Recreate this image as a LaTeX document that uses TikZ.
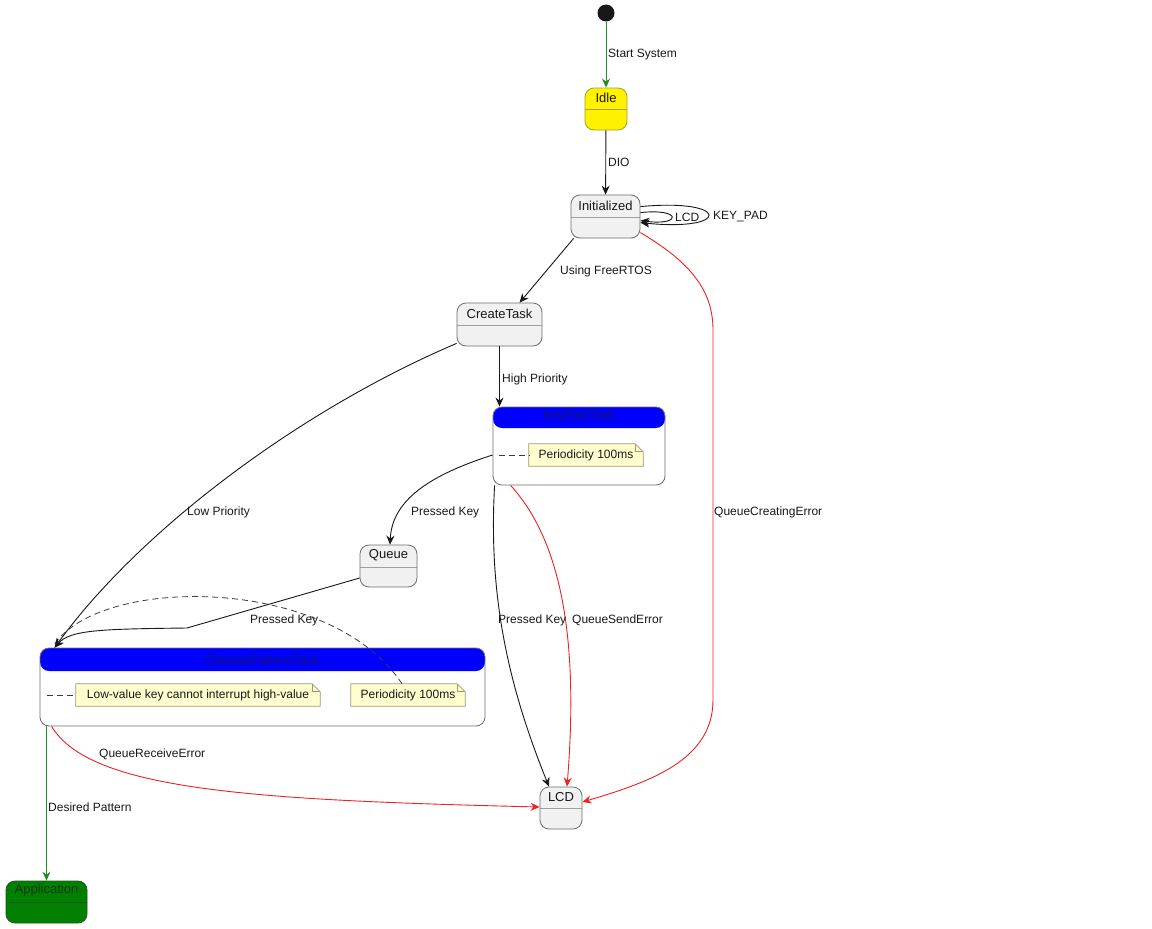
\documentclass[tikz,border=0pt]{standalone}
\usepackage{fontspec}
\setmainfont{Liberation Sans}
\usetikzlibrary{arrows.meta,calc}
\definecolor{sfill}{HTML}{F1F1F1}
\definecolor{sdraw}{HTML}{6E6E6E}
\definecolor{hline}{HTML}{A0A0A0}
\definecolor{nfill}{HTML}{FEFECE}
\definecolor{ndraw}{HTML}{9A9A78}
\definecolor{ink}{HTML}{181818}
\definecolor{grn}{HTML}{228B22}
\definecolor{rd}{HTML}{EE2222}
\definecolor{hblue}{HTML}{0000FF}
\definecolor{htext}{HTML}{14146E}
\definecolor{appg}{HTML}{008000}
\definecolor{appd}{HTML}{1A5A1A}
\definecolor{idled}{HTML}{A0A030}
\tikzset{
  x=1pt, y=-1pt,
  stbox/.style={draw=sdraw, line width=0.8pt, fill=sfill, rounded corners=9pt, inner sep=0pt},
  hdr/.style 2 args={path picture={\draw[#2, line width=0.8pt]
      ([yshift=-#1]path picture bounding box.north west) --
      ([yshift=-#1]path picture bounding box.north east);}},
  bluehdr/.style={path picture={\fill[hblue] (path picture bounding box.north west)
      rectangle ([yshift=-#1]path picture bounding box.north east);}},
  ttl/.style={font=\fontsize{13}{15}\selectfont, text=ink, inner sep=0pt},
  lbl/.style={font=\fontsize{12}{14}\selectfont, text=ink, inner sep=0pt, anchor=west},
  note/.style={fill=nfill, inner sep=0pt, font=\fontsize{12}{14}\selectfont, text=ink},
  notelink/.style={draw=ink!85, line width=0.8pt, dash pattern=on 6pt off 4pt},
  conn/.style={draw=ink, line width=0.9pt, -{Stealth[length=9pt,width=8pt,inset=3pt]}},
  gconn/.style={conn, draw=grn},
  rconn/.style={conn, draw=rd},
}
\newcommand{\dogear}[1]{%
  \fill[white] ([xshift=-8pt]#1.north east) -- (#1.north east) -- ([yshift=-8pt]#1.north east) -- cycle;
  \draw[ndraw, line width=0.8pt] (#1.north west) -- ([xshift=-8pt]#1.north east) -- ([yshift=-8pt]#1.north east) -- (#1.south east) -- (#1.south west) -- cycle;
  \draw[ndraw, line width=0.8pt] ([xshift=-8pt]#1.north east) |- ([yshift=-8pt]#1.north east);}
\begin{document}
\begin{tikzpicture}
\useasboundingbox[fill=white] (0,0) rectangle (1152,929);

% states
\node[circle, fill=ink, minimum size=17pt, inner sep=0pt] (start) at (606,13) {};
\node[stbox, fill=yellow, draw=idled, hdr={21pt}{idled}, minimum width=42pt, minimum height=42pt] (idle) at (606,109) {};
\node[ttl] (idle-t) at ([yshift=-10pt]idle.north) {Idle};
\node[stbox, hdr={22pt}{hline}, minimum width=69pt, minimum height=43pt] (init) at (605.5,216.5) {};
\node[ttl] (init-t) at ([yshift=-11pt]init.north) {Initialized};
\node[stbox, hdr={22pt}{hline}, minimum width=85pt, minimum height=43pt] (create) at (499.5,324.5) {};
\node[ttl] (create-t) at ([yshift=-11pt]create.north) {CreateTask};
\node[stbox, fill=white, bluehdr=21pt, minimum width=172pt, minimum height=78pt] (keypad) at (579,446) {};
\node[ttl, text=htext] (keypad-t) at ([yshift=-10pt]keypad.north) {KeyPadTask};
\node[stbox, hdr={22pt}{hline}, minimum width=57pt, minimum height=42pt] (queue) at (388.5,566) {};
\node[ttl] (queue-t) at ([yshift=-11pt]queue.north) {Queue};
\node[stbox, fill=white, bluehdr=23pt, minimum width=445pt, minimum height=78pt] (cpt) at (262.5,687) {};
\node[ttl, text=htext] (cpt-t) at ([yshift=-12pt]cpt.north) {ChoosePatternTask};
\node[stbox, hdr={21pt}{hline}, minimum width=42pt, minimum height=42pt] (lcd) at (561,808) {};
\node[ttl] (lcd-t) at ([yshift=-10pt]lcd.north) {LCD};
\node[stbox, fill=appg, draw=appd, hdr={21pt}{appd}, minimum width=81pt, minimum height=42pt] (app) at (46.5,902) {};
\node[ttl, text=appd!60!black] (app-t) at ([yshift=-10pt]app.north) {Application};

% notes
\node[note, minimum width=114pt, minimum height=22pt] (n1) at (586,455) {Periodicity 100ms};
\dogear{n1}
\node[note, minimum width=244pt, minimum height=22pt] (n2) at (198,695) {Low-value key cannot interrupt high-value};
\dogear{n2}
\node[note, minimum width=114pt, minimum height=22pt] (n3) at (408,695) {Periodicity 100ms};
\dogear{n3}
\coordinate (cptnote) at (54,645);
\draw[notelink] ($(n1.west -| keypad.west)+(6,0)$) -- (n1.west);
\draw[notelink] ($(n2.west -| cpt.west)+(7,0)$) -- (n2.west);
\draw[notelink] ([xshift=-6pt]n3.north) .. controls (330,575) and (100,575) .. (cptnote);

% connectors
\draw[gconn] (start) -- (idle);
\draw[conn] (idle) -- (init);
\draw[conn] ([yshift=-12pt]init.north east) .. controls (731,198) and (731,232) .. ([yshift=-28pt]init.north east);
\draw[conn] ([yshift=-18pt]init.north east) .. controls (682,208) and (682,226) .. ([yshift=-26pt]init.north east);
\draw[conn] ([xshift=3pt]init.south west) -- ([xshift=63pt]create.north west);
\draw[rconn] ([yshift=-38pt]init.north east) .. controls (690,262) and (713,290) .. (713,330)
   -- (713,700) .. controls (713,760) and (650,782) .. ([yshift=6pt]lcd.east);
\draw[conn] (create.south) -- (create.south |- keypad.north);
\draw[conn] ([yshift=3pt]create.south west) .. controls (300,410) and (140,530) .. ([xshift=15pt]cpt.north west);
\draw[conn] ([yshift=-9pt]keypad.west) .. controls (430,475) and (392,500) .. ([xshift=1.5pt]queue.north);
\draw[conn] ([yshift=-12pt]queue.west) -- (187,628) .. controls (100,629) and (70,630) .. ([xshift=15pt]cpt.north west);
\draw[conn] ([xshift=2pt]keypad.south west) .. controls (488,600) and (510,690) .. ([xshift=-12pt]lcd.north);
\draw[rconn] ([xshift=18pt]keypad.south west) .. controls (565,545) and (578,650) .. ([xshift=6pt]lcd.north);
\draw[rconn] ([xshift=12pt]cpt.south west) .. controls (90,790) and (250,800) .. ([yshift=1pt]lcd.west);
\draw[gconn] (app.north |- cpt.south) -- (app.north);

% labels
\node[lbl] (l-start) at (608,55) {Start System};
\node[lbl] (l-dio) at (608,162) {DIO};
\node[lbl] (l-lcd) at (675,217) {LCD};
\node[lbl] (l-keypad) at (713,217) {KEY\_PAD};
\node[lbl] (l-freertos) at (560,271) {Using FreeRTOS};
\node[lbl] (l-high) at (502,379) {High Priority};
\node[lbl] (l-low) at (187,512) {Low Priority};
\node[lbl] (l-pk1) at (411,512) {Pressed Key};
\node[lbl] (l-qce) at (714,512) {QueueCreatingError};
\node[lbl] (l-pk2) at (250,620) {Pressed Key};
\node[lbl] (l-pk3) at (498,620) {Pressed Key};
\node[lbl] (l-qse) at (572,620) {QueueSendError};
\node[lbl] (l-qre) at (99,754) {QueueReceiveError};
\node[lbl] (l-dp) at (48,807) {Desired Pattern};
\end{tikzpicture}
\end{document}
